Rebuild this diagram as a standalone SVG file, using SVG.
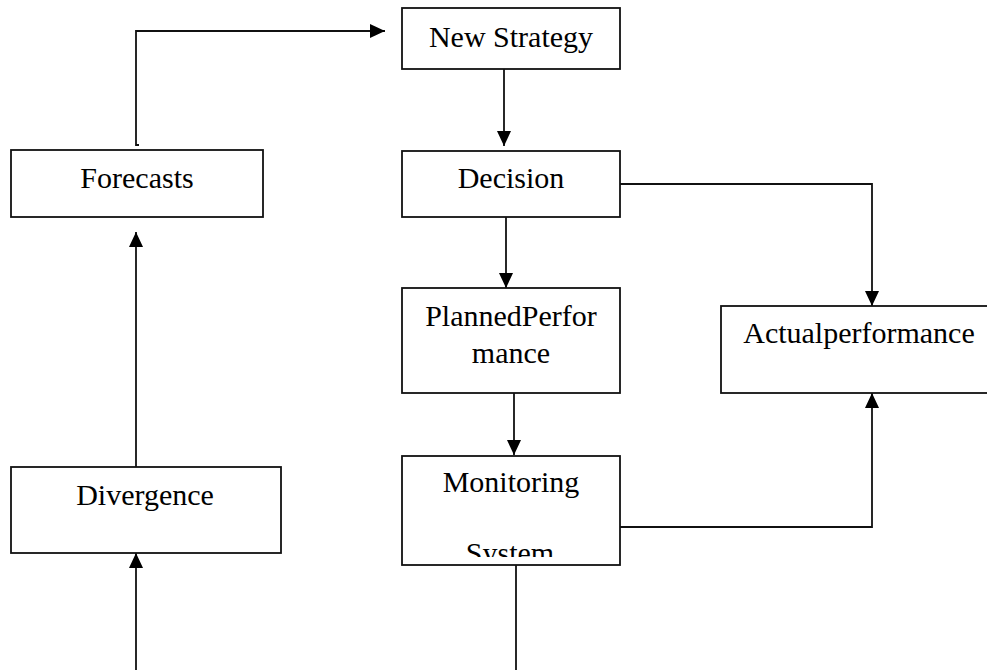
<svg xmlns="http://www.w3.org/2000/svg" width="987" height="670" viewBox="0 0 987 670">
<style>
.box{fill:#fff;stroke:#111;stroke-width:1.8}
.ln{fill:none;stroke:#111;stroke-width:1.8}
.t{font-family:"Liberation Serif","Times New Roman",serif;font-size:30px;fill:#000;text-anchor:middle}
</style>
<defs>
<marker id="ah" markerUnits="userSpaceOnUse" markerWidth="16" markerHeight="16" refX="15" refY="7.5" orient="auto">
<path d="M0,0.5 L15,7.5 L0,14.5 Z" fill="#000"/>
</marker>
<clipPath id="clipSys"><rect x="402" y="456" width="218" height="101"/></clipPath>
</defs>
<rect width="987" height="670" fill="#fff"/>
<g id="connectors">
<path class="ln" d="M139,145 L136,145 L136,31 L385,31" marker-end="url(#ah)"/>
<path class="ln" d="M504,69 L504,146" marker-end="url(#ah)"/>
<path class="ln" d="M506,213 L506,288" marker-end="url(#ah)"/>
<path class="ln" d="M620,184 L872,184 L872,306" marker-end="url(#ah)"/>
<path class="ln" d="M514,393 L514,455" marker-end="url(#ah)"/>
<path class="ln" d="M620,527 L872,527 L872,393" marker-end="url(#ah)"/>
<path class="ln" d="M516,565 L516,670"/>
<path class="ln" d="M136,467 L136,232" marker-end="url(#ah)"/>
<path class="ln" d="M136,670 L136,553" marker-end="url(#ah)"/>
</g>
<g id="new-strategy">
<rect class="box" x="402" y="8" width="218" height="61"/>
<text class="t" x="511" y="47">New Strategy</text>
</g>
<g id="forecasts">
<rect class="box" x="11" y="150" width="252" height="67"/>
<text class="t" x="137" y="188">Forecasts</text>
</g>
<g id="decision">
<rect class="box" x="402" y="151" width="218" height="66"/>
<text class="t" x="511" y="188">Decision</text>
</g>
<g id="planned-performance">
<rect class="box" x="402" y="288" width="218" height="105"/>
<text class="t" x="511" y="326">PlannedPerfor</text>
<text class="t" x="511" y="363">mance</text>
</g>
<g id="actual-performance">
<rect class="box" x="721" y="306" width="277" height="87"/>
<text class="t" x="859" y="343">Actualperformance</text>
</g>
<g id="monitoring-system">
<rect class="box" x="402" y="456" width="218" height="109"/>
<text class="t" x="511" y="492">Monitoring</text>
<text class="t" x="510" y="563" clip-path="url(#clipSys)">System</text>
</g>
<g id="divergence">
<rect class="box" x="11" y="467" width="270" height="86"/>
<text class="t" x="145" y="505">Divergence</text>
</g>
</svg>
